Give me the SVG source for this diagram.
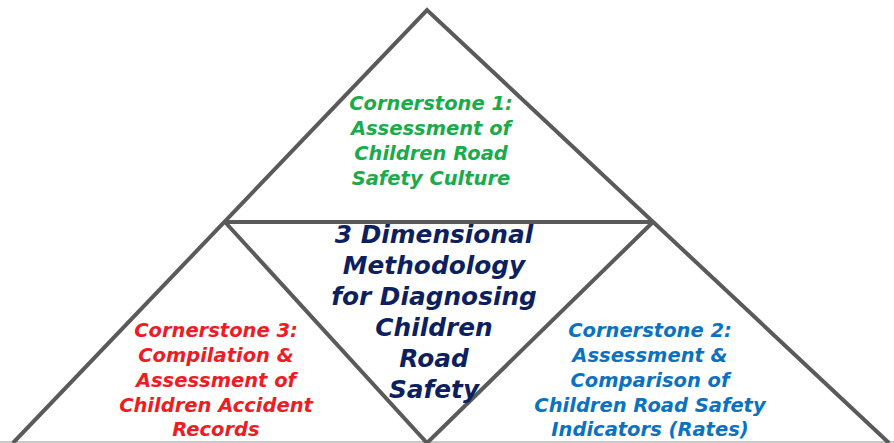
<svg xmlns="http://www.w3.org/2000/svg" width="894" height="443" viewBox="0 0 894 443">
<style>
.ln{stroke:#5a5a5a;stroke-width:4;fill:none;stroke-linejoin:miter}
.t{font-family:"DejaVu Sans","Open Sans",sans-serif;font-weight:bold;font-style:italic;text-anchor:middle}
.s{font-size:19.5px}
.c{font-size:24.8px;fill:#0d1f5e}
</style>
<rect width="894" height="443" fill="#ffffff"/>
<g id="connectors">
<line x1="0" y1="442" x2="894" y2="442" stroke="#c8c8c8" stroke-width="2"/>
<polyline class="ln" points="13,443 427,10 889,443"/>
<polyline class="ln" points="225,222 653,222"/>
<polyline class="ln" points="225,222 427,443 653,222"/>
</g>
<g id="cornerstone1" class="t s" fill="#1aab4b">
<text x="431" y="110">Cornerstone 1:</text>
<text x="431" y="135">Assessment of</text>
<text x="431" y="160">Children Road</text>
<text x="431" y="185">Safety Culture</text>
</g>
<g id="center" class="t c">
<text x="434" y="243">3 Dimensional</text>
<text x="434" y="274">Methodology</text>
<text x="434" y="305">for Diagnosing</text>
<text x="434" y="336">Children</text>
<text x="434" y="367">Road</text>
<text x="434" y="398">Safety</text>
</g>
<g id="cornerstone3" class="t s" fill="#ee1c24">
<text x="216" y="337">Cornerstone 3:</text>
<text x="216" y="362">Compilation &amp;</text>
<text x="216" y="387">Assessment of</text>
<text x="216" y="412">Children Accident</text>
<text x="216" y="436">Records</text>
</g>
<g id="cornerstone2" class="t s" fill="#0a72c0">
<text x="650" y="337">Cornerstone 2:</text>
<text x="650" y="362">Assessment &amp;</text>
<text x="650" y="387">Comparison of</text>
<text x="650" y="412">Children Road Safety</text>
<text x="650" y="436">Indicators (Rates)</text>
</g>
</svg>
